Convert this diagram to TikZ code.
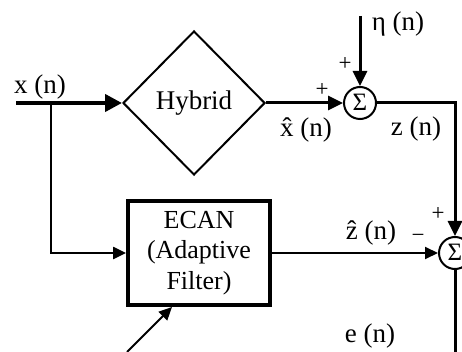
\documentclass[tikz,border=0pt]{standalone}
\usepackage{fontspec}
\setmainfont{Liberation Serif}
\usetikzlibrary{shapes.geometric,arrows.meta,calc}
\begin{document}
\begin{tikzpicture}[x=1pt,y=-1pt,
  lbl/.style={font=\fontsize{27}{30}\selectfont, inner sep=0pt},
  sgn/.style={font=\fontsize{23}{25}\selectfont, inner sep=0pt},
  sumnode/.style={circle, draw, line width=2pt, minimum size=32pt, inner sep=0pt, font=\fontsize{25}{25}\selectfont},
  tipA/.style={-{Triangle[length=15pt,width=14pt]}},
  tipB/.style={-{Triangle[length=13pt,width=12pt]}}]
\useasboundingbox (0,0) rectangle (462,352);
% blocks
\node[diamond, draw, line width=2pt, minimum width=142pt, minimum height=144pt, inner sep=0pt,
      font=\fontsize{27}{30}\selectfont] (hyb) at (194,103) {Hybrid};
\node[rectangle, draw, line width=4pt, minimum width=142pt, minimum height=104pt, inner sep=0pt,
      align=center, font=\fontsize{26}{30.5}\selectfont] (ecan) at (199,253) {ECAN\\(Adaptive\\Filter)};
\node[sumnode] (s1) at (360,103) {\raisebox{1pt}{Σ}};
\node[sumnode] (s2) at (455,253) {\raisebox{1pt}{Σ}};
% free ends
\coordinate (xin) at (16,103);
\coordinate (br) at (51,103);
\coordinate (eta) at (360,16);
\coordinate (eout) at (455,352);
\coordinate (mu) at (127,352);
\coordinate (tip) at ($(ecan.south west)!0.315!(ecan.south east)$);
% connectors
\draw[line width=4pt, -{Triangle[length=17pt,width=17pt]}] (xin) -- (hyb.west);
\draw[line width=2.5pt, tipB] (br) |- (ecan.west);
\draw[line width=3pt, tipA] (hyb.east) -- (s1.west);
\draw[line width=3pt, tipA] (eta) -- (s1.north);
\draw[line width=3pt, tipA] (s1.east) -| (s2.north);
\draw[line width=2pt, tipB] (ecan.east) -- (s2.west);
\draw[line width=3pt] (s2.south) -- (eout);
\draw[line width=2pt, tipB] (mu) -- (tip);
% labels
\node[lbl] (lx) at (40,87) {x (n)};
\node[lbl] (leta) at (398,24) {η (n)};
\node[lbl] (lxh) at (306,130) {\^{x} (n)};
\node[lbl] (lz) at (416,129) {z (n)};
\node[lbl] (lzh) at (371,233) {\^{z} (n)};
\node[lbl] (le) at (370,336) {e (n)};
\node[sgn] (p1) at (345,64) {+};
\node[sgn] (p2) at (322,90) {+};
\node[sgn] (p3) at (438,214) {+};
\node[sgn] (m1) at (418,238) {−};
\end{tikzpicture}
\end{document}
